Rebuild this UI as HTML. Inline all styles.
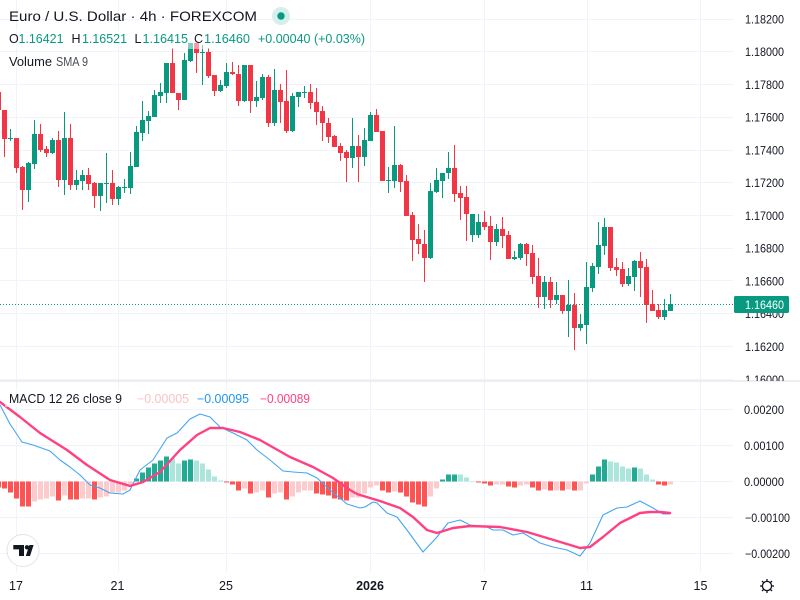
<!DOCTYPE html>
<html><head><meta charset="utf-8">
<style>
html,body{margin:0;padding:0;background:#fff;}
svg{display:block;}
text{font-family:"Liberation Sans",Arial,sans-serif;}
</style></head>
<body>
<svg id="s" xmlns="http://www.w3.org/2000/svg" width="800" height="600" viewBox="0 0 800 600">
<rect width="800" height="600" fill="#fff"/>
<g stroke="#f0f3fa" stroke-width="1">
  <line x1="0" y1="19.5" x2="733" y2="19.5"/>
  <line x1="0" y1="51.5" x2="733" y2="51.5"/>
  <line x1="0" y1="84.5" x2="733" y2="84.5"/>
  <line x1="0" y1="117.5" x2="733" y2="117.5"/>
  <line x1="0" y1="150.5" x2="733" y2="150.5"/>
  <line x1="0" y1="182.5" x2="733" y2="182.5"/>
  <line x1="0" y1="215.5" x2="733" y2="215.5"/>
  <line x1="0" y1="248.5" x2="733" y2="248.5"/>
  <line x1="0" y1="280.5" x2="733" y2="280.5"/>
  <line x1="0" y1="313.5" x2="733" y2="313.5"/>
  <line x1="0" y1="346.5" x2="733" y2="346.5"/>
  <line x1="0" y1="379.5" x2="733" y2="379.5"/>
  <line x1="0" y1="409.5" x2="733" y2="409.5"/>
  <line x1="0" y1="445.5" x2="733" y2="445.5"/>
  <line x1="0" y1="481.5" x2="733" y2="481.5"/>
  <line x1="0" y1="517.5" x2="733" y2="517.5"/>
  <line x1="0" y1="553.5" x2="733" y2="553.5"/>
  <line x1="16.5" y1="0" x2="16.5" y2="572"/>
  <line x1="118.5" y1="0" x2="118.5" y2="572"/>
  <line x1="226.5" y1="0" x2="226.5" y2="572"/>
  <line x1="370.5" y1="0" x2="370.5" y2="572"/>
  <line x1="484.5" y1="0" x2="484.5" y2="572"/>
  <line x1="587.5" y1="0" x2="587.5" y2="572"/>
  <line x1="700.5" y1="0" x2="700.5" y2="572"/>
</g>
<line x1="0" y1="381" x2="800" y2="381" stroke="#e0e3eb" stroke-width="1.2"/>
<line x1="0" y1="304.5" x2="733" y2="304.5" stroke="#089981" stroke-width="1" stroke-dasharray="1 2"/>
<g id="candles"></g>
<g id="hist"></g>
<polyline fill="none" stroke="#42a5f5" stroke-width="1.1" stroke-linejoin="round" points="0,405 10,424 22,442 33,445 50,451 60,460 70,467 80,475 90,485 100,488 110,493 123,494 130,490 140,470 153,460 167,438 177,433 190,419 200,414 210,417 220,427 233,433 247,440 257,450 270,460 283,471 293,472 307,473 317,478 330,490 347,504 360,508 365,507 373,502 377,503 387,513 397,517 407,530 423,552 437,537 448,523 460,520 470,525 487,527 493,530 503,530 513,535 523,533 540,543 553,547 567,550 580,556 590,543 603,515 617,508 627,507 640,501 653,508 663,514 670,514"/>
<polyline fill="none" stroke="#ff4081" stroke-width="2.4" stroke-linejoin="round" stroke-linecap="round" points="0,402 20,417 40,433 67,450 87,465 110,480 130,486 143,482 160,472 180,450 197,435 210,428 223,428 240,432 260,440 290,457 313,467 333,478 350,490 357,494 370,498 380,501 400,508 413,517 427,530 437,533 453,528 470,526 500,527 527,532 547,538 567,544 580,548 590,547 603,537 620,523 640,513 650,512 660,512 670,513"/>

<!-- legend overlays -->
<rect x="5" y="29" width="364" height="20" fill="#fff" fill-opacity="0.5"/>
<rect x="5" y="389" width="308" height="18" fill="#fff" fill-opacity="0.5"/>

<!-- title -->
<text x="9" y="21" font-size="14" fill="#131722" textLength="248" lengthAdjust="spacingAndGlyphs">Euro / U.S. Dollar · 4h · FOREXCOM</text>
<circle cx="281" cy="16" r="9" fill="#d6efe9"/>
<circle cx="281" cy="16" r="3.7" fill="#089981"/>
<g font-size="12.5">
<text x="9" y="43" fill="#131722">O</text>
<text x="18.5" y="43" fill="#089981" textLength="45" lengthAdjust="spacingAndGlyphs">1.16421</text>
<text x="71.5" y="43" fill="#131722">H</text>
<text x="82" y="43" fill="#089981" textLength="45" lengthAdjust="spacingAndGlyphs">1.16521</text>
<text x="134.5" y="43" fill="#131722">L</text>
<text x="142.5" y="43" fill="#089981" textLength="45.5" lengthAdjust="spacingAndGlyphs">1.16415</text>
<text x="194" y="43" fill="#131722">C</text>
<text x="204" y="43" fill="#089981" textLength="46" lengthAdjust="spacingAndGlyphs">1.16460</text>
<text x="258" y="43" fill="#089981" textLength="107" lengthAdjust="spacingAndGlyphs">+0.00040 (+0.03%)</text>
</g>
<text x="9" y="66" font-size="12.5" fill="#131722" textLength="43" lengthAdjust="spacingAndGlyphs">Volume</text>
<text x="56" y="66" font-size="12.5" fill="#4a4e59" textLength="32" lengthAdjust="spacingAndGlyphs">SMA 9</text>

<!-- MACD legend -->
<text x="9" y="403" font-size="12.5" fill="#131722" textLength="113" lengthAdjust="spacingAndGlyphs">MACD 12 26 close 9</text>
<text x="137" y="403" font-size="12.5" fill="#f9c2c7" textLength="52" lengthAdjust="spacingAndGlyphs">−0.00005</text>
<text x="197" y="403" font-size="12.5" fill="#2196f3" textLength="52" lengthAdjust="spacingAndGlyphs">−0.00095</text>
<text x="260" y="403" font-size="12.5" fill="#ff4081" textLength="50" lengthAdjust="spacingAndGlyphs">−0.00089</text>

<!-- price axis -->
<svg x="734" y="0" width="66" height="381" overflow="hidden">
<g font-size="12" fill="#131722">
<text x="11" y="23.5" textLength="39" lengthAdjust="spacingAndGlyphs">1.18200</text>
<text x="11" y="56" textLength="39" lengthAdjust="spacingAndGlyphs">1.18000</text>
<text x="11" y="89" textLength="39" lengthAdjust="spacingAndGlyphs">1.17800</text>
<text x="11" y="121.5" textLength="39" lengthAdjust="spacingAndGlyphs">1.17600</text>
<text x="11" y="154.5" textLength="39" lengthAdjust="spacingAndGlyphs">1.17400</text>
<text x="11" y="187" textLength="39" lengthAdjust="spacingAndGlyphs">1.17200</text>
<text x="11" y="220" textLength="39" lengthAdjust="spacingAndGlyphs">1.17000</text>
<text x="11" y="252.5" textLength="39" lengthAdjust="spacingAndGlyphs">1.16800</text>
<text x="11" y="285.5" textLength="39" lengthAdjust="spacingAndGlyphs">1.16600</text>
<text x="11" y="318" textLength="39" lengthAdjust="spacingAndGlyphs">1.16400</text>
<text x="11" y="351" textLength="39" lengthAdjust="spacingAndGlyphs">1.16200</text>
<text x="11" y="384" textLength="39" lengthAdjust="spacingAndGlyphs">1.16000</text>
</g>
</svg>
<rect x="734" y="296" width="55" height="17" rx="1.5" fill="#089981"/>
<text x="745" y="309" font-size="12" fill="#fff" textLength="39" lengthAdjust="spacingAndGlyphs">1.16460</text>

<!-- MACD axis -->
<g font-size="12" fill="#131722">
<text x="744" y="414" textLength="40" lengthAdjust="spacingAndGlyphs">0.00200</text>
<text x="744" y="450" textLength="40" lengthAdjust="spacingAndGlyphs">0.00100</text>
<text x="744" y="486" textLength="40" lengthAdjust="spacingAndGlyphs">0.00000</text>
<text x="745" y="522" textLength="45" lengthAdjust="spacingAndGlyphs">−0.00100</text>
<text x="745" y="558" textLength="45" lengthAdjust="spacingAndGlyphs">−0.00200</text>
</g>

<!-- time axis -->
<g font-size="12.5" fill="#131722" text-anchor="middle">
<text x="16" y="590">17</text>
<text x="117.5" y="590">21</text>
<text x="226" y="590">25</text>
<text x="370" y="590" font-weight="bold">2026</text>
<text x="484" y="590">7</text>
<text x="586.5" y="590">11</text>
<text x="700.5" y="590">15</text>
</g>

<!-- gear -->
<g transform="translate(767,586)" stroke="#131722" stroke-width="1.3" fill="none">
  <circle r="4.6"/>
  <line x1="0" y1="-4.6" x2="0" y2="-7"/>
  <line x1="0" y1="4.6" x2="0" y2="7"/>
  <line x1="-4.6" y1="0" x2="-7" y2="0"/>
  <line x1="4.6" y1="0" x2="7" y2="0"/>
  <line x1="3.3" y1="3.3" x2="5" y2="5"/>
  <line x1="-3.3" y1="3.3" x2="-5" y2="5"/>
  <line x1="3.3" y1="-3.3" x2="5" y2="-5"/>
  <line x1="-3.3" y1="-3.3" x2="-5" y2="-5"/>
</g>

<!-- TV logo -->
<circle cx="23" cy="550.5" r="16" fill="#fff" stroke="#e0e3eb" stroke-width="1"/>
<g fill="#131722">
  <path d="M13.3 545 H24 V556 H19 V549.4 H13.3 Z"/>
  <circle cx="27" cy="547.3" r="2.2"/>
  <path d="M29.4 545 H33.6 L30 556 H25.8 Z"/>
</g>
</svg>
<script>
(function(){
var C=[
[-1,0,90,92,110,110],[0,0,110,110,139,157],[1,1,129,138,139,141],[2,0,138,138,168,173],
[3,0,166,167,190,210],[4,1,162,163,190,202],[5,1,120,134,164,169],[6,0,124,134,150,152],
[7,0,146,149,153,157],[8,1,138,140,153,154],[9,0,131,140,180,187],[10,1,112,138,180,195],
[11,0,124,138,185,190],[12,1,170,180,185,190],[13,1,170,175,181,190],[14,0,168,175,184,190],
[15,0,182,183,196,208],[16,1,183,183,196,211],[17,1,153,183,184,203],[18,0,170,183,199,205],
[19,1,186,187,199,205],[20,1,179,187,188,193],[21,1,152,166,188,194],[22,1,126,132,167,167],
[23,1,101,120,133,141],[24,1,111,116,121,134],[25,1,90,95,117,117],[26,1,83,92,96,103],
[27,1,63,63,93,103],[28,0,48,63,93,93],[29,0,93,93,100,110],[30,1,53,60,100,100],
[31,1,43,43,61,62],[32,0,43,43,53,73],[33,1,45,52,53,85],[34,0,48,52,76,78],
[35,0,75,75,91,96],[36,1,80,85,91,92],[37,1,63,72,86,88],[38,0,62,72,74,75],
[39,0,65,74,101,106],[40,1,65,65,101,102],[41,0,65,65,101,113],[42,1,81,97,101,107],
[43,1,74,77,98,100],[44,0,75,77,123,127],[45,1,69,90,123,126],[46,0,84,90,102,123],
[47,0,70,101,131,133],[48,1,93,96,131,132],[49,1,92,92,97,107],[50,1,86,92,93,98],
[51,0,84,92,103,109],[52,0,88,102,112,125],[53,0,106,111,123,141],[54,0,118,123,137,143],
[55,0,135,136,147,147],[56,0,143,146,153,161],[57,0,150,152,158,182],[58,1,118,146,158,168],
[59,0,135,146,157,182],[60,1,128,140,157,166],[61,1,112,115,141,141],[62,0,109,115,132,132],
[63,0,131,131,181,181],[64,1,167,180,181,193],[65,1,126,165,181,188],[66,0,164,165,182,192],
[67,0,175,181,216,216],[68,0,212,215,240,261],[69,0,224,239,244,254],[70,0,230,244,258,282],
[71,1,183,191,258,259],[72,1,168,180,192,193],[73,1,173,173,181,198],[74,1,152,168,173,179],
[75,0,145,168,194,202],[76,0,186,193,198,220],[77,0,186,197,214,241],[78,1,214,214,235,242],
[79,1,214,222,235,238],[80,0,211,222,227,230],[81,0,216,226,242,260],[82,1,224,229,242,246],
[83,0,217,229,236,248],[84,0,231,235,259,259],[85,1,251,257,259,260],[86,1,243,244,258,260],
[87,0,243,244,254,266],[88,0,245,253,277,284],[89,0,258,276,297,308],[90,1,276,282,297,309],
[91,0,277,282,300,308],[92,1,282,295,300,304],[93,0,295,295,311,314],[94,1,280,305,311,337],
[95,0,293,305,328,350],[96,1,314,324,328,331],[97,1,262,287,325,344],[98,1,263,266,288,292],
[99,1,222,245,267,274],[100,1,218,227,246,255],[101,0,227,227,268,271],[102,0,258,267,270,276],
[103,0,262,269,284,287],[104,1,268,276,284,286],[105,1,260,261,277,291],[106,0,252,261,268,297],
[107,0,259,267,305,323],[108,0,290,304,311,311],[109,0,304,310,317,319],[110,1,299,310,317,320],
[111,1,294,304,311,311]];
var NS="http://www.w3.org/2000/svg";
function R(g,x,y,w,h,f){var r=document.createElementNS(NS,"rect");r.setAttribute("x",x);r.setAttribute("y",y);r.setAttribute("width",w);r.setAttribute("height",h);r.setAttribute("fill",f);g.appendChild(r);}
var g=document.getElementById("candles");
for(var i=0;i<C.length;i++){var d=C[i];var cx=Math.floor(4.6+6*d[0]);var col=d[1]?"#089981":"#F23645";
R(g,cx,d[2],1,Math.max(1,d[5]-d[2]),col);
R(g,cx-2,d[3],5,Math.max(1,d[4]-d[3]),col);}
var H="R6 R7 R11 R17 R25 R25 r20 r18 r17 r15 R19 r14 R18 R18 r17 r17 R18 r16 r15 r11 r11 r9 r4 G3 G9 G14 G18 G21 G25 g23 g18 G21 G22 g21 g18 g12 g5 g1 R1 R3 R9 r7 R12 r11 r9 R16 r12 r11 R18 r15 r11 r9 r9 R12 R13 R14 R17 R18 R19 r16 r16 r12 r6 r4 R9 R11 r10 R11 R15 R21 R23 R25 r15 r7 G2 G7 G7 g7 g4 g0.5 R1 R2 R4 r3 r3 R5 R6 r4 r3 R6 R9 r8 R9 r9 R9 r8 R9 r9 r2 G7 G15 G22 g20 g19 g15 g13 G14 g13 g7 g2 R3 R4 r3".split(" ");
var cols={R:"#FF5252",r:"#FCCBCD",G:"#22AB94",g:"#ACE5DC"};
var hg=document.getElementById("hist");var z=481.5;
for(var j=0;j<H.length;j++){var k=j-1;var t=H[j][0];var v=parseFloat(H[j].slice(1));var cx2=Math.floor(4.6+6*k);
if(t==="G"||t==="g"){R(hg,cx2-2,z-v,5,v,cols[t]);}else{R(hg,cx2-2,z,5,v,cols[t]);}}
})();
</script>
</body></html>
